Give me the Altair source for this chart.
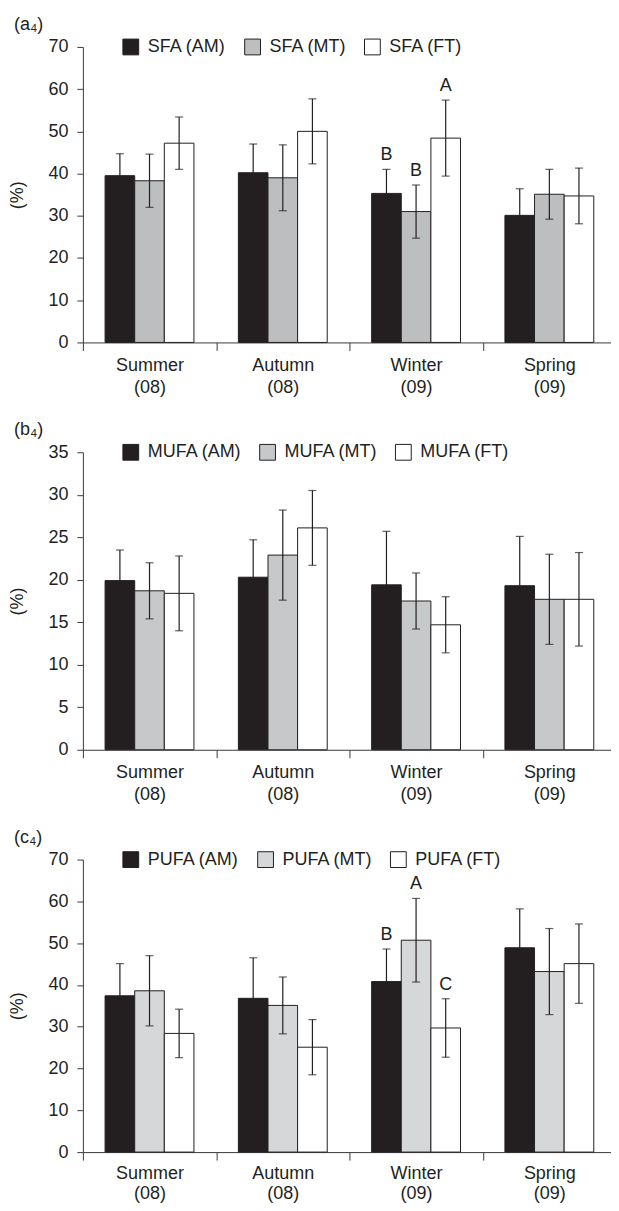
import altair as alt
import pandas as pd

# ---------------- data ----------------
seasons = ["Summer (08)", "Autumn (08)", "Winter (09)", "Spring (09)"]

sfa_series = ["SFA (AM)", "SFA (MT)", "SFA (FT)"]
sfa_am = [39.5, 40.2, 35.3, 30.1]
sfa_am_err = [5.2, 6.8, 5.7, 6.3]
sfa_mt = [38.3, 39.0, 31.0, 35.1]
sfa_mt_err = [6.3, 7.8, 6.3, 5.9]
sfa_ft = [47.2, 50.0, 48.4, 34.7]
sfa_ft_err = [6.2, 7.7, 9.0, 6.6]
sfa_letters_am = ["", "", "B", ""]
sfa_letters_mt = ["", "", "B", ""]
sfa_letters_ft = ["", "", "A", ""]

mufa_series = ["MUFA (AM)", "MUFA (MT)", "MUFA (FT)"]
mufa_am = [19.9, 20.3, 19.4, 19.3]
mufa_am_err = [3.6, 4.4, 6.3, 5.8]
mufa_mt = [18.7, 22.9, 17.5, 17.7]
mufa_mt_err = [3.3, 5.3, 3.3, 5.3]
mufa_ft = [18.4, 26.1, 14.7, 17.7]
mufa_ft_err = [4.4, 4.4, 3.3, 5.5]
mufa_letters = ["", "", "", ""]

pufa_series = ["PUFA (AM)", "PUFA (MT)", "PUFA (FT)"]
pufa_am = [37.4, 36.8, 40.8, 48.9]
pufa_am_err = [7.7, 9.7, 7.8, 9.3]
pufa_mt = [38.6, 35.1, 50.7, 43.2]
pufa_mt_err = [8.4, 6.8, 10.0, 10.3]
pufa_ft = [28.4, 25.1, 29.7, 45.1]
pufa_ft_err = [5.8, 6.6, 7.0, 9.5]
pufa_letters_am = ["", "", "B", ""]
pufa_letters_mt = ["", "", "A", ""]
pufa_letters_ft = ["", "", "C", ""]

ticks_a = [0, 10, 20, 30, 40, 50, 60, 70]
ticks_b = [0, 5, 10, 15, 20, 25, 30, 35]
ticks_c = [0, 10, 20, 30, 40, 50, 60, 70]

DARK = "#231f20"
FONT = "Liberation Sans"


def make_panel(label, series, vals, errs, letters, ticks, mt_color, height,
               lab_pad=6, line_h=22):
    rows = []
    for s_name, v_list, e_list, l_list in zip(series, vals, errs, letters):
        for season, v, e, l in zip(seasons, v_list, e_list, l_list):
            rows.append(dict(season=season, group=s_name, value=v,
                             lo=v - e, hi=v + e, letter=l))
    df = pd.DataFrame(rows)
    base = alt.Chart(df)

    x = alt.X("season:N", sort=seasons,
              scale=alt.Scale(paddingInner=0, paddingOuter=0),
              axis=alt.Axis(title=None, labelAngle=0, tickBand="extent",
                            labelExpr="split(datum.label, ' ')",
                            labelLineHeight=line_h, labelFontSize=18,
                            labelColor=DARK, tickSize=8, labelPadding=lab_pad,
                            domainColor="#3a3a3a", tickColor="#3a3a3a",
                            labelFont=FONT))
    xo = alt.XOffset("group:N", sort=series,
                     scale=alt.Scale(domain=series, paddingInner=0,
                                     paddingOuter=0.75))
    yaxis = alt.Axis(title="(%)", values=ticks, grid=False, tickSize=6,
                     labelPadding=9, labelFontSize=18, labelColor=DARK,
                     titleFontSize=18, titleFontWeight="normal",
                     titleColor=DARK, titlePadding=21, domainColor="#3a3a3a",
                     tickColor="#3a3a3a", labelFont=FONT, titleFont=FONT)
    yscale = alt.Scale(domain=[ticks[0], ticks[-1]], nice=False)

    bars = base.mark_bar(stroke=DARK, strokeWidth=1,
                         width=alt.RelativeBandSize(1)).encode(
        x=x, xOffset=xo,
        y=alt.Y("value:Q", scale=yscale, axis=yaxis),
        color=alt.Color("group:N", sort=series,
                        scale=alt.Scale(domain=series,
                                        range=[DARK, mt_color, "#ffffff"]),
                        legend=alt.Legend(title=None, orient="none",
                                          legendX=39, legendY=-9,
                                          direction="horizontal",
                                          symbolType="square", symbolSize=250,
                                          symbolStrokeColor=DARK,
                                          symbolStrokeWidth=1,
                                          symbolOpacity=1,
                                          labelFontSize=18, labelFont=FONT,
                                          labelColor=DARK, labelOffset=8,
                                          columnPadding=16, padding=0)),
    )
    rule = base.mark_rule(color=DARK, strokeWidth=1.2).encode(
        x=x, xOffset=xo,
        y=alt.Y("lo:Q", scale=yscale, axis=yaxis), y2="hi:Q")
    cap_hi = base.mark_tick(color=DARK, size=8, thickness=1.2).encode(
        x=x, xOffset=xo, y=alt.Y("hi:Q", scale=yscale, axis=yaxis))
    cap_lo = base.mark_tick(color=DARK, size=8, thickness=1.2).encode(
        x=x, xOffset=xo, y=alt.Y("lo:Q", scale=yscale, axis=yaxis))
    text = base.transform_filter("datum.letter != ''").mark_text(
        dy=-14, fontSize=18, baseline="middle", color=DARK, font=FONT).encode(
        x=x, xOffset=xo, y=alt.Y("hi:Q", scale=yscale, axis=yaxis),
        text="letter:N")

    return alt.layer(bars, rule, cap_hi, cap_lo, text).properties(
        width=534, height=height,
        title=alt.TitleParams(text=label, anchor="start", frame="bounds",
                              fontSize=18, fontWeight="normal", color=DARK,
                              font=FONT, offset=4, dx=5),
    )


pa = make_panel("(a\u2084)", sfa_series, [sfa_am, sfa_mt, sfa_ft],
                [sfa_am_err, sfa_mt_err, sfa_ft_err],
                [sfa_letters_am, sfa_letters_mt, sfa_letters_ft],
                ticks_a, "#bcbec0", 296)
pb = make_panel("(b\u2084)", mufa_series, [mufa_am, mufa_mt, mufa_ft],
                [mufa_am_err, mufa_mt_err, mufa_ft_err],
                [mufa_letters, mufa_letters, mufa_letters],
                ticks_b, "#c6c8ca", 298)
pc = make_panel("(c\u2084)", pufa_series, [pufa_am, pufa_mt, pufa_ft],
                [pufa_am_err, pufa_mt_err, pufa_ft_err],
                [pufa_letters_am, pufa_letters_mt, pufa_letters_ft],
                ticks_c, "#d6d7d9", 293, lab_pad=4, line_h=20)

chart = alt.vconcat(pa, pb, pc, spacing=25).resolve_scale(
    color="independent", y="independent", xOffset="independent"
).properties(
    padding={"left": 0, "top": 7, "right": -6, "bottom": 0}
).configure(font=FONT, background="white").configure_view(stroke=None)

chart.save("out.html", embed_options={"renderer": "svg", "actions": False})
